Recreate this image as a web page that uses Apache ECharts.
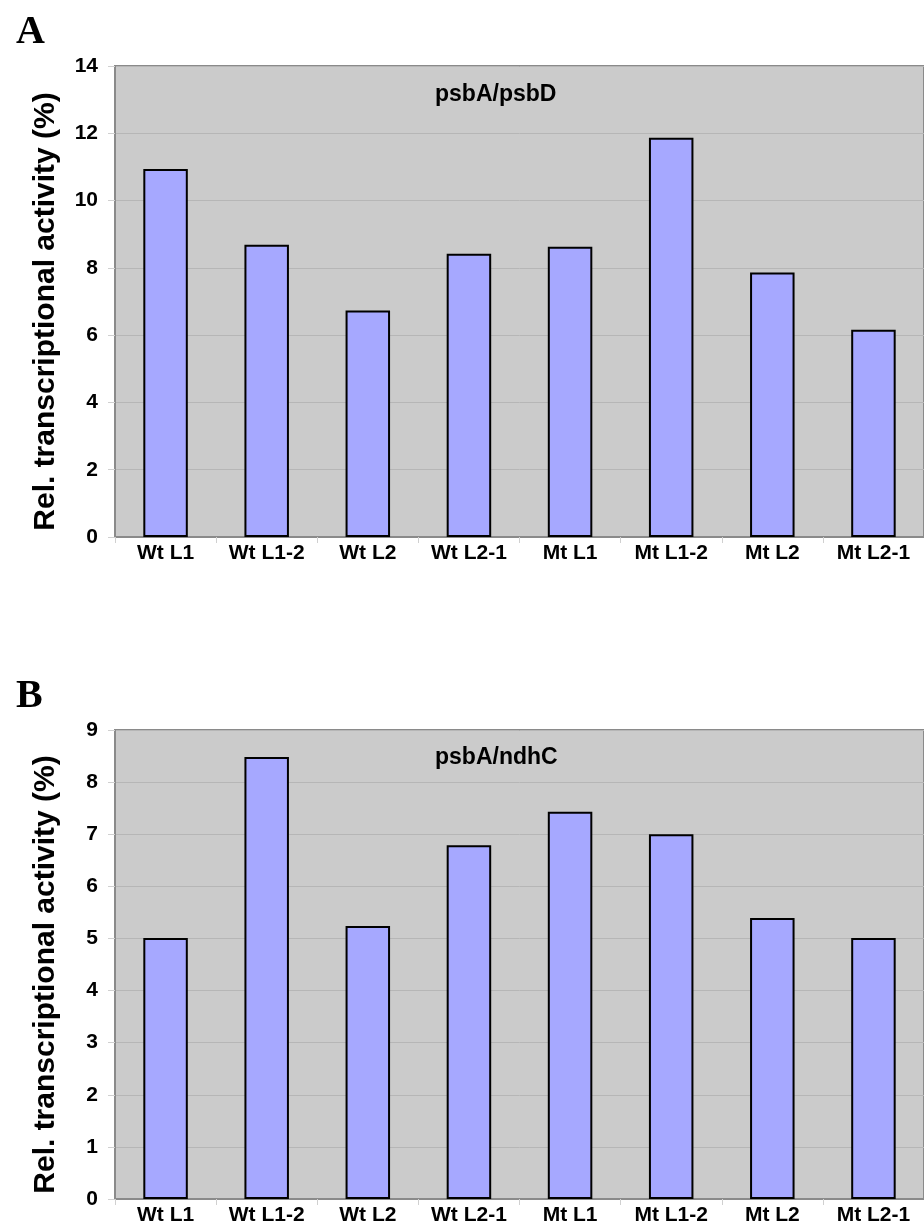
<!DOCTYPE html>
<html>
<head>
<meta charset="utf-8">
<script src="https://cdn.jsdelivr.net/npm/echarts@6/dist/echarts.min.js"></script>
<style>
  html, body { margin: 0; padding: 0; background: #fff; }
  #chart { width: 924px; height: 1226px; }
</style>
</head>
<body>
<div id="chart"></div>
<script>
const categories = ['Wt L1', 'Wt L1-2', 'Wt L2', 'Wt L2-1', 'Mt L1', 'Mt L1-2', 'Mt L2', 'Mt L2-1'];
const psbDValues = [10.94, 8.69, 6.73, 8.42, 8.63, 11.87, 7.86, 6.16];
const ndhCValues = [5.01, 8.48, 5.24, 6.79, 7.43, 7.0, 5.39, 5.01];
const panelTitles = ['psbA/psbD', 'psbA/ndhC'];
const panelLetters = ['A', 'B'];
const yLabel = 'Rel. transcriptional activity (%)';

const font = '"Liberation Sans", Arial, sans-serif';
const grids = [
    { left: 115, top: 66, width: 818, height: 471 },
    { left: 115, top: 730, width: 818, height: 469 }
];

const makeX = (i) => ({
    type: 'category',
    gridIndex: i,
    data: categories,
    axisLine: { lineStyle: { color: '#8a8a8a', width: 2 } },
    axisTick: { show: true, length: 6, lineStyle: { color: '#d0d0d0' } },
    axisLabel: { color: '#000', fontFamily: font, fontWeight: 'bold', fontSize: 21, margin: 6 }
});

const makeY = (i, max, interval) => ({
    type: 'value',
    gridIndex: i,
    min: 0,
    max: max,
    interval: interval,
    name: yLabel,
    nameLocation: 'middle',
    nameGap: 54,
    nameTextStyle: { color: '#000', fontFamily: font, fontWeight: 'bold', fontSize: 30, padding: [0, 20, 0, 0] },
    axisLine: { show: true, lineStyle: { color: '#8a8a8a', width: 2 } },
    axisTick: { show: true, length: 7, lineStyle: { color: '#d0d0d0' } },
    axisLabel: { color: '#000', fontFamily: font, fontWeight: 'bold', fontSize: 21, margin: 17 },
    splitLine: { lineStyle: { color: '#b6b6b6', width: 1 } }
});

const makeSeries = (i, values) => ({
    type: 'bar',
    xAxisIndex: i,
    yAxisIndex: i,
    data: values,
    barWidth: '44%',
    itemStyle: { color: '#A6A8FF', borderColor: '#000', borderWidth: 2 },
    silent: true
});

const chart = echarts.init(document.getElementById('chart'), null, { renderer: 'canvas' });
chart.setOption({
    animation: false,
    backgroundColor: '#fff',
    grid: grids.map(g => Object.assign({
        show: true,
        backgroundColor: '#cbcbcb',
        borderColor: '#8a8a8a',
        borderWidth: 2,
        containLabel: false
    }, g)),
    title: [
        { text: panelTitles[0], left: 430, top: 78, textStyle: { fontFamily: font, fontWeight: 'bold', fontSize: 23, color: '#000' } },
        { text: panelTitles[1], left: 430, top: 741, textStyle: { fontFamily: font, fontWeight: 'bold', fontSize: 23, color: '#000' } },
        { text: panelLetters[0], left: 11, top: 8, textStyle: { fontFamily: '"Liberation Serif", "Times New Roman", serif', fontWeight: 'bold', fontSize: 40, color: '#000' } },
        { text: panelLetters[1], left: 11, top: 672, textStyle: { fontFamily: '"Liberation Serif", "Times New Roman", serif', fontWeight: 'bold', fontSize: 40, color: '#000' } }
    ],
    xAxis: [makeX(0), makeX(1)],
    yAxis: [makeY(0, 14, 2), makeY(1, 9, 1)],
    series: [makeSeries(0, psbDValues), makeSeries(1, ndhCValues)]
});
</script>
</body>
</html>
